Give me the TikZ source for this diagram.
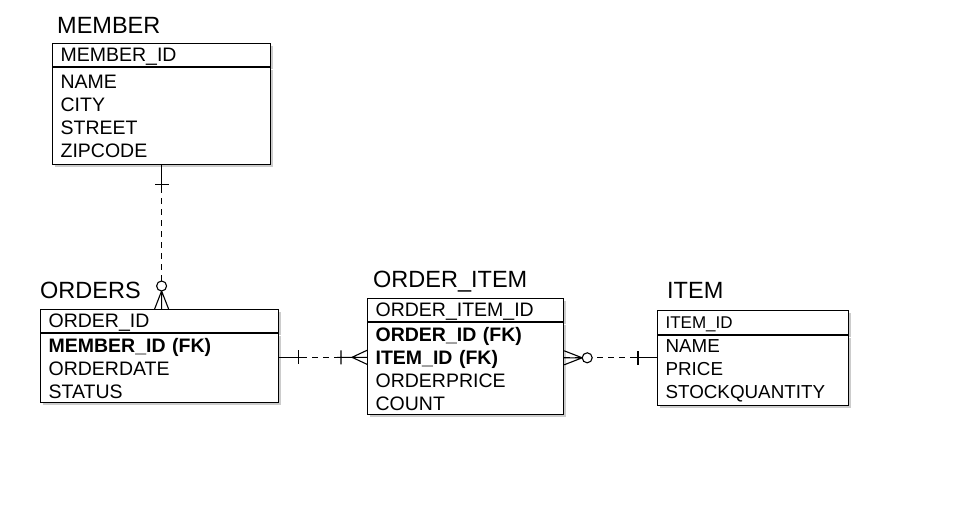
\documentclass[tikz,border=0pt]{standalone}
\usepackage{fontspec}
\setmainfont{Liberation Sans}
\usepackage{xcolor}
\usetikzlibrary{positioning,shadows}
\tikzset{
  entshadow/.style={drop shadow={shadow xshift=2pt,shadow yshift=-2pt,fill=black!40}},
  enthead/.style={draw=black,fill=white,line width=1.2pt,anchor=north west,align=left,
    inner xsep=8pt,inner ysep=0pt,minimum height=23pt,text height=13.5pt,text depth=1.5pt,
    font=\fontsize{19.5}{22}\selectfont,entshadow},
  entbody/.style={draw=black,fill=white,line width=1.2pt,align=left,
    inner xsep=8pt,inner ysep=0pt,font=\fontsize{19.5}{23}\selectfont,entshadow},
  enttitle/.style={anchor=base west,inner sep=0pt,font=\fontsize{23.5}{27}\selectfont},
  erdash/.style={line width=1.1pt,dash pattern=on 6pt off 5pt},
  erstub/.style={solid,line width=1.1pt},
  erone/.pic={\draw[erstub] (0,0) -- (24,0) (19,-7) -- (19,7);},
  erzeromany/.pic={\draw[erstub] (0,-7) -- (18,0) -- (0,7) (0,0) -- (18,0);
    \draw[erstub,fill=white] (23,0) circle[radius=5pt];},
  eronemany/.pic={\draw[erstub] (0,-7) -- (15,0) -- (0,7) (0,0) -- (30,0) (26,-7) -- (26,7);}
}

\begin{document}
\begin{tikzpicture}[x=1pt,y=-1pt]
\useasboundingbox (0,0) rectangle (960,515);

% entities
\node[enthead,text width=202pt] (membhead) at (52,43) {MEMBER\_ID};
\node[entbody,text width=202pt,minimum height=97pt,below=0pt of membhead] (membbody)
  {NAME\\CITY\\STREET\\ZIPCODE};
\node[enttitle] (membtitle) at (57,33) {MEMBER};

\node[enthead,text width=222pt] (ordhead) at (40,309) {ORDER\_ID};
\node[entbody,text width=222pt,minimum height=69pt,below=0pt of ordhead] (ordbody)
  {\textbf{MEMBER\_ID (FK)}\\ORDERDATE\\STATUS};
\node[enttitle] (ordtitle) at (40,298) {ORDERS};

\node[enthead,text width=180pt] (oihead) at (367,298) {ORDER\_ITEM\_ID};
\node[entbody,text width=180pt,minimum height=92pt,below=0pt of oihead] (oibody)
  {\textbf{ORDER\_ID (FK)}\\\textbf{ITEM\_ID (FK)}\\ORDERPRICE\\COUNT};
\node[enttitle] (oititle) at (373,287) {ORDER\_ITEM};

\node[enthead,text width=175pt,minimum height=24pt,font=\fontsize{17}{20}\selectfont]
  (itemhead) at (657,310) {ITEM\_ID};
\node[entbody,text width=175pt,minimum height=70pt,font=\fontsize{18.8}{23}\selectfont,
  below=0pt of itemhead] (itembody) {NAME\\PRICE\\STOCKQUANTITY};
\node[enttitle] (itemtitle) at (667,298) {ITEM};

% relations
\draw[erdash] (membbody.south) pic[rotate=-90]{erone}
  -- (membbody.south |- ordhead.north) pic[rotate=90]{erzeromany};
\draw[erdash] ([yshift=11pt]ordbody.east) pic{erone}
  -- ([yshift=11pt]ordbody.east -| oibody.west) pic[rotate=180]{eronemany};
\draw[erdash] ([yshift=11pt]oibody.east) pic{erzeromany}
  -- ([yshift=11pt]oibody.east -| itembody.west) pic[rotate=180]{erone};
\end{tikzpicture}
\end{document}
